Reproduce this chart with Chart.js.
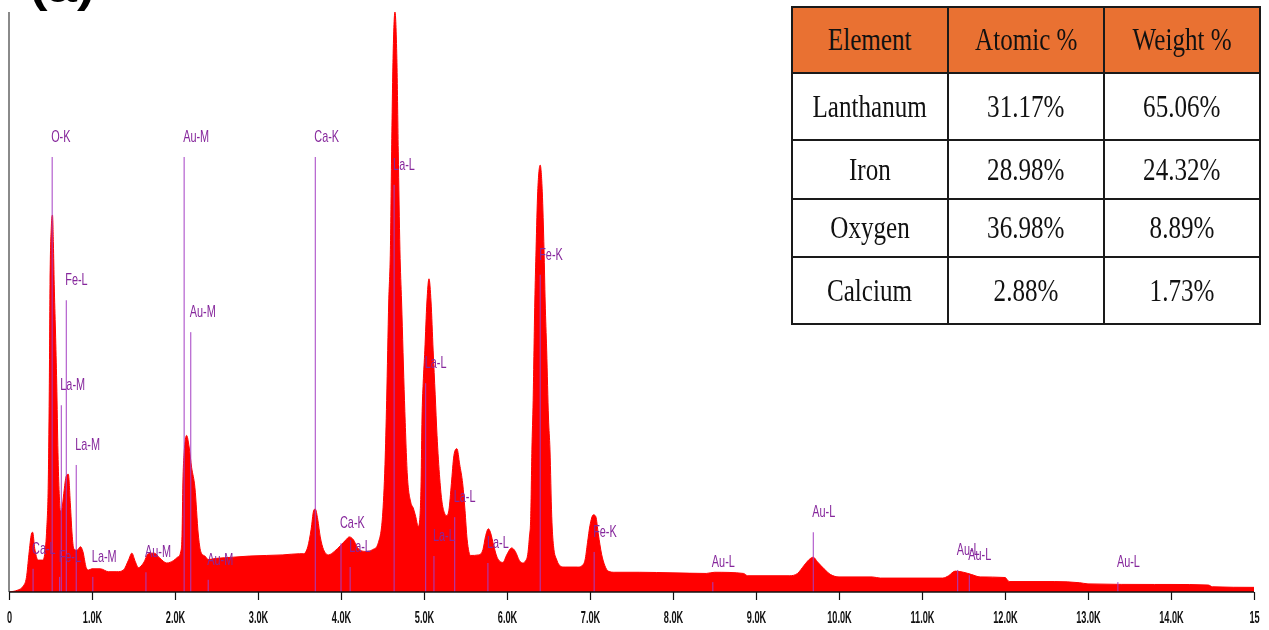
<!DOCTYPE html>
<html>
<head>
<meta charset="utf-8">
<title>EDS spectrum</title>
<script src="https://cdn.jsdelivr.net/npm/chart.js@4.4.1/dist/chart.umd.min.js"></script>
<style>
  body { margin: 0; background: #fff; }
  #wrap { position: relative; width: 1269px; height: 630px; overflow: hidden; }
  #eds { position: absolute; left: 0; top: 0; }
  #comp {
    position: absolute; left: 791px; top: 6px;
    border-collapse: collapse; table-layout: fixed; width: 468px;
    font-family: "Liberation Serif", "Times New Roman", serif; font-size: 31px; color: #111;
  }
  #comp td, #comp th { border: 2px solid #1a1a1a; text-align: center; padding: 0; font-weight: normal; overflow: hidden; }
  #comp th { background: #e97132; }
  .sq { display: inline-block; transform: scaleX(0.81); white-space: nowrap; }
</style>
</head>
<body>
<div id="wrap">
  <canvas id="eds" width="1269" height="630"></canvas>
  <table id="comp"></table>
</div>
<script>
// spectrum, energy in keV and counts on a 0-100 scale (rows of ten)
const energy = [
  0.00, 0.10, 0.17, 0.21, 0.24, 0.27, 0.285, 0.31, 0.35, 0.40,
  0.43, 0.455, 0.473, 0.486, 0.494, 0.51, 0.524, 0.535, 0.545, 0.56,
  0.575, 0.59, 0.605, 0.62, 0.64, 0.66, 0.69, 0.715, 0.74, 0.76,
  0.78, 0.82, 0.86, 0.89, 0.93, 0.96, 1.00, 1.10, 1.20, 1.30,
  1.38, 1.44, 1.48, 1.52, 1.56, 1.62, 1.68, 1.75, 1.82, 1.90,
  1.98, 2.03, 2.07, 2.085, 2.095, 2.11, 2.14, 2.17, 2.20, 2.24,
  2.28, 2.31, 2.36, 2.40, 2.50, 2.70, 2.90, 3.10, 3.30, 3.50,
  3.55, 3.60, 3.64, 3.67, 3.69, 3.72, 3.75, 3.79, 3.85, 3.92,
  4.00, 4.06, 4.10, 4.15, 4.20, 4.30, 4.38, 4.45, 4.50, 4.53,
  4.55, 4.575, 4.595, 4.61, 4.627, 4.65, 4.673, 4.69, 4.71, 4.73,
  4.765, 4.80, 4.84, 4.87, 4.90, 4.93, 4.955, 4.965, 4.976, 4.99,
  5.01, 5.035, 5.06, 5.085, 5.11, 5.135, 5.157, 5.19, 5.217, 5.25,
  5.27, 5.30, 5.33, 5.36, 5.397, 5.43, 5.466, 5.494, 5.52, 5.56,
  5.66, 5.71, 5.74, 5.775, 5.80, 5.84, 5.88, 5.95, 6.00, 6.055,
  6.10, 6.15, 6.19, 6.22, 6.25, 6.27, 6.286, 6.30, 6.315, 6.325,
  6.335, 6.35, 6.37, 6.40, 6.425, 6.446, 6.46, 6.478, 6.50, 6.518,
  6.539, 6.56, 6.60, 6.64, 6.70, 6.85, 6.90, 6.94, 6.97, 7.00,
  7.04, 7.07, 7.10, 7.14, 7.18, 7.22, 7.30, 7.60, 8.00, 8.40,
  8.50, 8.85, 8.90, 9.40, 9.50, 9.58, 9.64, 9.69, 9.74, 9.82,
  9.90, 10.00, 10.40, 10.50, 11.25, 11.32, 11.40, 11.50, 11.60, 11.70,
  12.00, 12.05, 12.60, 12.90, 13.00, 13.80, 14.00, 14.45, 14.50, 15.00
];
const counts = [
  0, 0.3, 1.0, 2.5, 6.5, 10.0, 10.3, 7.5, 5.5, 5.5,
  6.5, 11, 18.8, 36, 53, 63, 65, 60, 53, 45,
  36, 24, 17, 14, 14.5, 17, 20, 20.3, 15, 10,
  7.5, 7.2, 7.8, 7.0, 4.2, 3.8, 4.0, 4.0, 3.5, 3.5,
  3.8, 5.5, 6.7, 5.3, 4.2, 5.0, 6.6, 6.7, 5.8, 5.0,
  5.4, 6, 7, 10, 18.8, 24, 27, 25, 21.5, 18,
  10, 7, 6.2, 5.6, 5.8, 6.0, 6.2, 6.3, 6.4, 6.6,
  6.6, 7.8, 10.8, 14.0, 14.3, 12.5, 9.5, 7.3, 6.4, 7.0,
  8.1, 9.0, 9.5, 9.0, 7.6, 7.0, 7.3, 8.5, 13, 22,
  33, 50, 59, 76, 92, 100, 92, 76, 59, 50,
  33, 20, 15.5, 14.5, 13, 11.3, 14, 19, 30, 36,
  41.7, 50, 54, 50, 41.7, 34, 27, 19.5, 15.5, 13.5,
  13.2, 14.1, 18.7, 23.5, 24.7, 22, 18.7, 14.1, 9, 6.3,
  6.4, 7.3, 9.5, 10.9, 10.3, 8, 6.0, 5.1, 6.5, 7.6,
  7.0, 5.4, 5.0, 5.3, 6.5, 9.5, 13, 24.5, 33, 41.7,
  50, 59, 69, 73.6, 69, 59, 50, 41.7, 30, 24.5,
  13, 8, 5.5, 4.5, 4.3, 4.3, 4.5, 5.5, 8.5, 11.5,
  13.3, 13, 10, 6.5, 4.5, 3.6, 3.4, 3.4, 3.3, 3.2,
  3.4, 3.2, 2.8, 2.8, 3.2, 4.6, 5.6, 6.0, 5.2, 4.0,
  3.0, 2.6, 2.6, 2.4, 2.4, 2.8, 3.6, 3.4, 3.0, 2.6,
  2.5, 1.8, 1.8, 1.6, 1.4, 1.3, 1.3, 1.2, 0.9, 0.8
];

// identified lines: position (keV), marker height, name
const lineKeV = [0.29, 0.52, 0.69, 0.63, 0.81, 0.61, 1.01, 1.65, 2.11, 2.19, 2.40, 3.69, 4.00, 4.11,
  4.64, 5.02, 5.12, 5.37, 5.77, 6.40, 7.05, 8.48, 9.69, 11.43, 11.57, 13.36];
const lineTop = [4.0, 75.0, 50.3, 32.2, 21.9, 2.6, 2.6, 3.4, 75.0, 44.8, 2.1, 75.0, 8.4, 4.3,
  70.2, 36.0, 6.2, 12.9, 5.0, 54.7, 6.9, 1.7, 10.3, 3.8, 2.9, 1.7];
const lineName = ['Ca-L', 'O-K', 'Fe-L', 'La-M', 'La-M', 'Fe-L', 'La-M', 'Au-M', 'Au-M', 'Au-M', 'Au-M', 'Ca-K', 'Ca-K', 'La-L',
  'La-L', 'La-L', 'La-L', 'La-L', 'La-L', 'Fe-K', 'Fe-K', 'Au-L', 'Au-L', 'Au-L', 'Au-L', 'Au-L'];

const tickKeV = [0, 1, 2, 3, 4, 5, 6, 7, 8, 9, 10, 11, 12, 13, 14, 15];
const tickLabels = ['0', '1.0K', '2.0K', '3.0K', '4.0K', '5.0K', '6.0K', '7.0K', '8.0K', '9.0K',
  '10.0K', '11.0K', '12.0K', '13.0K', '14.0K', '15'];

// quantification table
const tableHead = ['Element', 'Atomic %', 'Weight %'];
const elements = ['Lanthanum', 'Iron', 'Oxygen', 'Calcium'];
const atomicPct = ['31.17%', '28.98%', '36.98%', '2.88%'];
const weightPct = ['65.06%', '24.32%', '8.89%', '1.73%'];

// build the table
const rowH = [66, 67, 59, 58, 67];
const tbl = document.getElementById('comp');
let html = '<colgroup><col style="width:156px"><col style="width:156px"><col style="width:156px"></colgroup>';
html += `<tr style="height:${rowH[0]}px">` + tableHead.map(h => `<th><span class="sq">${h}</span></th>`).join('') + '</tr>';
elements.forEach((el, i) => {
  html += `<tr style="height:${rowH[i + 1]}px"><td><span class="sq">${el}</span></td>` +
    `<td><span class="sq">${atomicPct[i]}</span></td><td><span class="sq">${weightPct[i]}</span></td></tr>`;
});
tbl.innerHTML = html;

// vertical marker segments, broken by null points
const markerPts = [];
lineKeV.forEach((e, i) => {
  markerPts.push({ x: e, y: 0 }, { x: e, y: lineTop[i] }, { x: e, y: null });
});

const PURPLE_TEXT = '#86279c';

const edsDecor = {
  id: 'edsDecor',
  afterDatasetsDraw(chart) {
    const { ctx, chartArea, scales } = chart;
    const xs = scales.x, ys = scales.y;
    ctx.save();

    // line names above each marker
    ctx.fillStyle = PURPLE_TEXT;
    ctx.font = '17px "Liberation Sans", Arial, sans-serif';
    ctx.textAlign = 'left';
    ctx.textBaseline = 'alphabetic';
    lineKeV.forEach((e, i) => {
      const px = xs.getPixelForValue(e) - 1;
      const py = ys.getPixelForValue(lineTop[i]) - 15;
      ctx.save();
      ctx.translate(px, py);
      ctx.scale(0.64, 1);
      ctx.fillText(lineName[i], 0, 0);
      ctx.restore();
    });

    // left axis
    ctx.strokeStyle = '#8a8a8a';
    ctx.lineWidth = 2;
    ctx.beginPath();
    ctx.moveTo(chartArea.left, chartArea.top);
    ctx.lineTo(chartArea.left, chartArea.bottom);
    ctx.stroke();

    // bottom axis and ticks
    ctx.strokeStyle = '#111';
    ctx.lineWidth = 1.5;
    ctx.beginPath();
    ctx.moveTo(chartArea.left, chartArea.bottom);
    ctx.lineTo(chartArea.right, chartArea.bottom);
    ctx.stroke();
    ctx.lineWidth = 1.2;
    ctx.fillStyle = '#111';
    ctx.font = 'bold 17px "Liberation Sans", Arial, sans-serif';
    ctx.textAlign = 'center';
    tickKeV.forEach((k, i) => {
      const px = Math.round(xs.getPixelForValue(k)) + 0.5;
      ctx.beginPath();
      ctx.moveTo(px, chartArea.bottom);
      ctx.lineTo(px, chartArea.bottom + 8);
      ctx.stroke();
      ctx.save();
      ctx.translate(px, chartArea.bottom + 31);
      ctx.scale(0.54, 1);
      ctx.fillText(tickLabels[i], 0, 0);
      ctx.restore();
    });

    // panel letter, clipped at the top edge
    ctx.fillStyle = '#000';
    ctx.font = 'bold 44px "Liberation Sans", Arial, sans-serif';
    ctx.textAlign = 'left';
    ctx.save();
    ctx.translate(30, 2);
    ctx.scale(1.2, 1);
    ctx.fillText('(a)', 0, 0);
    ctx.restore();

    ctx.restore();
  }
};

new Chart(document.getElementById('eds'), {
  type: 'line',
  data: {
    datasets: [
      {
        label: 'lines',
        data: markerPts,
        borderColor: '#a43fc4',
        borderWidth: 1,
        pointRadius: 0,
        spanGaps: false,
        fill: false,
        order: 0
      },
      {
        label: 'spectrum',
        data: energy.map((e, i) => ({ x: e, y: counts[i] })),
        borderColor: '#ff0000',
        backgroundColor: '#ff0000',
        borderWidth: 1,
        pointRadius: 0,
        fill: 'origin',
        cubicInterpolationMode: 'monotone',
        order: 1
      }
    ]
  },
  options: {
    responsive: false,
    animation: false,
    devicePixelRatio: 1,
    layout: { padding: { left: 9, right: 15, top: 12, bottom: 38 } },
    plugins: { legend: { display: false }, tooltip: { enabled: false } },
    scales: {
      x: { type: 'linear', min: 0, max: 15, display: false },
      y: { min: 0, max: 100, display: false }
    }
  },
  plugins: [edsDecor]
});
</script>
</body>
</html>
